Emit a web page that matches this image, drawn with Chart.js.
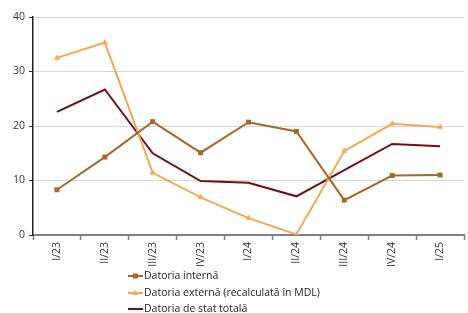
<!DOCTYPE html>
<html>
<head>
<meta charset="utf-8">
<script src="https://cdn.jsdelivr.net/npm/chart.js@4.4.1/dist/chart.umd.min.js"></script>
<style>
    html, body { margin: 0; padding: 0; background: #fff; }
    #wrap { width: 468px; height: 313px; position: relative; }
</style>
</head>
<body>
<div id="wrap"><canvas id="chart"></canvas></div>
<script>
const quarters = ['I/23', 'II/23', 'III/23', 'IV/23', 'I/24', 'II/24', 'III/24', 'IV/24', 'I/25'];
const internalDebt = [8.3, 14.3, 20.8, 15.1, 20.7, 19.0, 6.4, 10.9, 11.0];
const externalDebt = [32.5, 35.3, 11.4, 6.9, 3.1, 0.1, 15.4, 20.4, 19.8];
const totalDebt = [22.6, 26.7, 15.0, 9.9, 9.6, 7.1, 11.9, 16.7, 16.3];
const yTicks = [0, 10, 20, 30, 40];

const FONT = '"Open Sans", sans-serif';

// legend drawn below the axis, one row per series (line + marker + text)
const lineLegend = {
    id: 'lineLegend',
    afterDraw(chart) {
        const ctx = chart.ctx;
        const x0 = 128, rowY = [276, 293, 309];
        ctx.save();
        chart.data.datasets.forEach((ds, i) => {
            const y = rowY[i];
            ctx.strokeStyle = ds.borderColor;
            ctx.lineWidth = 2;
            ctx.beginPath();
            ctx.moveTo(x0, y);
            ctx.lineTo(x0 + 15, y);
            ctx.stroke();
            ctx.fillStyle = ds.borderColor;
            if (ds.pointStyle === 'rect') {
                ctx.fillRect(x0 + 5, y - 2.5, 5, 5);
            } else if (ds.pointStyle === 'triangle') {
                ctx.beginPath();
                ctx.moveTo(x0 + 7.5, y - 3);
                ctx.lineTo(x0 + 10.5, y + 2);
                ctx.lineTo(x0 + 4.5, y + 2);
                ctx.closePath();
                ctx.fill();
            }
            ctx.fillStyle = '#222';
            ctx.font = '10.5px ' + FONT;
            ctx.textBaseline = 'middle';
            ctx.fillText(ds.label, x0 + 16, y + 0.5);
        });
        ctx.restore();
    }
};

new Chart(document.getElementById('chart'), {
    type: 'line',
    data: {
        labels: quarters,
        datasets: [
            {
                label: 'Datoria internă',
                data: internalDebt,
                borderColor: '#a5682a',
                backgroundColor: '#a5682a',
                borderWidth: 2,
                pointStyle: 'rect',
                pointRadius: 3.5,
                pointBorderWidth: 0
            },
            {
                label: 'Datoria externă (recalculată în MDL)',
                data: externalDebt,
                borderColor: '#f4a957',
                backgroundColor: '#f4a957',
                borderWidth: 2,
                pointStyle: 'triangle',
                pointRadius: 3.5,
                pointBorderWidth: 0
            },
            {
                label: 'Datoria de stat totală',
                data: totalDebt,
                borderColor: '#6e1016',
                backgroundColor: '#6e1016',
                borderWidth: 2,
                pointRadius: 0
            }
        ]
    },
    options: {
        responsive: true,
        maintainAspectRatio: false,
        animation: false,
        layout: { padding: { top: 17, right: 0, bottom: 40, left: 0 } },
        plugins: {
            legend: { display: false },
            tooltip: { enabled: false }
        },
        scales: {
            x: {
                offset: true,
                afterFit: (scale) => { scale.height = 38; },
                grid: {
                    offset: true,
                    drawOnChartArea: false,
                    tickLength: 5,
                    tickColor: '#808080',
                    tickWidth: 1.5
                },
                border: { color: '#808080', width: 2 },
                ticks: {
                    color: '#333',
                    font: { family: FONT, size: 10.5 },
                    minRotation: 90,
                    maxRotation: 90,
                    padding: 2
                }
            },
            y: {
                min: 0,
                max: 40,
                afterFit: (scale) => { scale.width = 33; },
                afterBuildTicks: (scale) => { scale.ticks = yTicks.map(v => ({ value: v })); },
                grid: {
                    color: '#d4d4d4',
                    lineWidth: 1,
                    tickLength: 4,
                    tickColor: '#333'
                },
                border: { color: '#222', width: 1.5 },
                ticks: {
                    color: '#333',
                    font: { family: FONT, size: 10.5 },
                    padding: 4
                }
            }
        }
    },
    plugins: [lineLegend]
});
</script>
</body>
</html>
